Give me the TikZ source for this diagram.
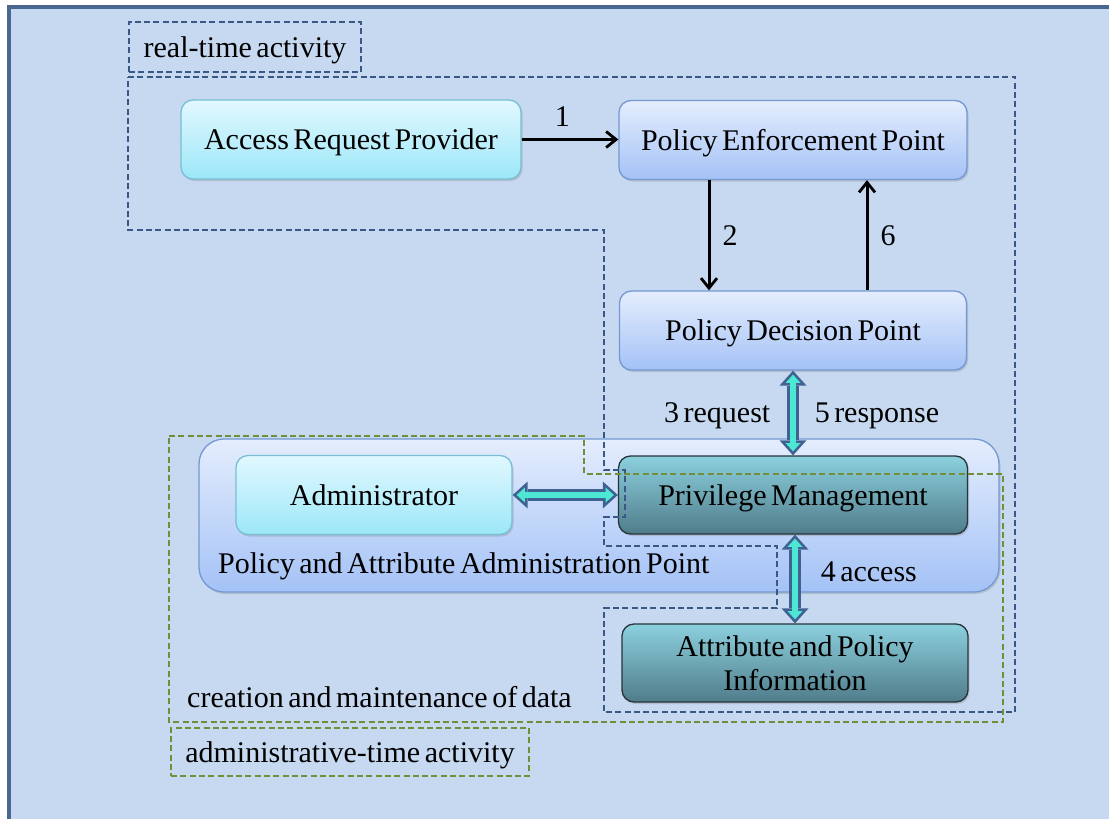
\documentclass[tikz,border=0pt]{standalone}
\usepackage{fontspec}
\setmainfont[WordSpace=0.6]{Liberation Serif}
\usetikzlibrary{shadows,arrows.meta}
\definecolor{bgblue}{RGB}{198,217,240}
\definecolor{frameblue}{RGB}{74,103,146}
\definecolor{rtblue}{RGB}{58,88,134}
\definecolor{atgreen}{RGB}{114,142,56}
\definecolor{cyantop}{RGB}{226,248,255}
\definecolor{cyanbot}{RGB}{156,231,248}
\definecolor{cyanline}{RGB}{120,190,212}
\definecolor{bluetop}{RGB}{228,237,253}
\definecolor{bluebot}{RGB}{164,194,246}
\definecolor{blueline}{RGB}{116,152,210}
\definecolor{tealtop}{RGB}{140,208,222}
\definecolor{tealbot}{RGB}{80,124,138}
\definecolor{tealline}{RGB}{40,52,60}
\definecolor{turq}{RGB}{76,232,212}
\definecolor{arrline}{RGB}{64,98,146}
\begin{document}
\begin{tikzpicture}[x=1pt,y=-1pt,font=\fontsize{30}{34}\selectfont,
	box/.style={rounded corners=12pt,minimum height=79pt,inner sep=4pt,line width=1.3pt,text depth=0pt,
		drop shadow={shadow xshift=1.5pt,shadow yshift=-2pt,opacity=0.3}},
	cyanbox/.style={box,draw=cyanline,top color=cyantop,bottom color=cyanbot},
	bluebox/.style={box,draw=blueline,top color=bluetop,bottom color=bluebot},
	tealbox/.style={box,draw=tealline,top color=tealtop,bottom color=tealbot},
	flow/.style={line width=3pt,-{Straight Barb[length=10pt,width=16pt,line width=2.8pt]}},
	fat/.style={line width=11.5pt,draw=arrline,
		{Triangle[length=15pt,width=27pt,line width=0pt]}-{Triangle[length=15pt,width=27pt,line width=0pt]},
		postaction={draw=turq,line width=6pt,shorten <=4pt,shorten >=4pt,
			{Triangle[length=8.3pt,width=15pt,line width=0pt]}-{Triangle[length=8.3pt,width=15pt,line width=0pt]}}},
	lbl/.style={inner sep=2pt,text depth=0pt},
	rtline/.style={draw=rtblue,line width=2.8pt,dash pattern=on 6pt off 3.3pt},
	atline/.style={draw=atgreen,line width=2.8pt,dash pattern=on 6pt off 3.3pt}]
	\useasboundingbox (0,0) rectangle (1109,819);
	\fill[bgblue] (9,7) rectangle (1109,819);
	\draw[frameblue,line width=3.2pt] (1112,7) -- (9,7) -- (9,822);
	\node[bluebox,rounded corners=25pt,minimum width=800pt,minimum height=153pt] (paap) at (599,515.5) {};
	\node[anchor=west,lbl] (paaplbl) at (216,563) {Policy and Attribute Administration Point};
	\node[cyanbox,minimum width=340pt] (arp) at (351,139.5) {Access Request Provider};
	\node[bluebox,minimum width=348pt] (pep) at (793,140) {Policy Enforcement Point};
	\node[bluebox,minimum width=347pt] (pdp) at (793,330.5) {Policy Decision Point};
	\node[tealbox,minimum width=349pt,minimum height=78pt] (pm) at (793,495) {Privilege Management};
	\node[cyanbox,minimum width=276pt] (admin) at (374,495) {Administrator};
	\node[tealbox,minimum width=346pt,minimum height=78pt,align=center] (apip) at (795,663) {Attribute and Policy\\Information};
	\draw[flow] (arp.east) -- node[lbl,above=10pt,pos=0.42] {1} (arp.east -| pep.west);
	\draw[flow] ([xshift=-84pt]pep.south) -- node[lbl,right=10pt] {2} ([xshift=-84pt]pdp.north);
	\draw[flow] ([xshift=74pt]pdp.north) -- node[lbl,right=10pt] {6} ([xshift=74pt]pep.south);
	\draw[fat] (pdp.south) -- node[lbl,left=15pt] {3 request} node[lbl,right=14pt] {5 response} (pm.north);
	\draw[fat] (admin.east) -- (pm.west);
	\draw[fat] (pm.south -| apip.north) -- node[lbl,right=18pt,pos=0.42] {4 access} (apip.north);
	\draw[rtline] (128,77) -- (1015,77) -- (1015,712) -- (604,712) -- (604,608) -- (777,608) -- (777,546)
		-- (604,546) -- (604,517) -- (625,517) -- (625,470) -- (604,470) -- (604,230) -- (128,230) -- cycle;
	\draw[atline] (169,436) -- (584,436) -- (584,474) -- (1003,474) -- (1003,722) -- (169,722) -- cycle;
	\node[rtline,minimum width=232pt,minimum height=50pt,inner sep=2pt,text depth=0pt] (rtlbl) at (245,47) {real-time activity};
	\node[atline,minimum width=358pt,minimum height=48pt,inner sep=2pt,text depth=0pt] (atlbl) at (350,752) {administrative-time activity};
	\node[anchor=west,lbl] (datalbl) at (185,697) {creation and maintenance of data};
\end{tikzpicture}
\end{document}
